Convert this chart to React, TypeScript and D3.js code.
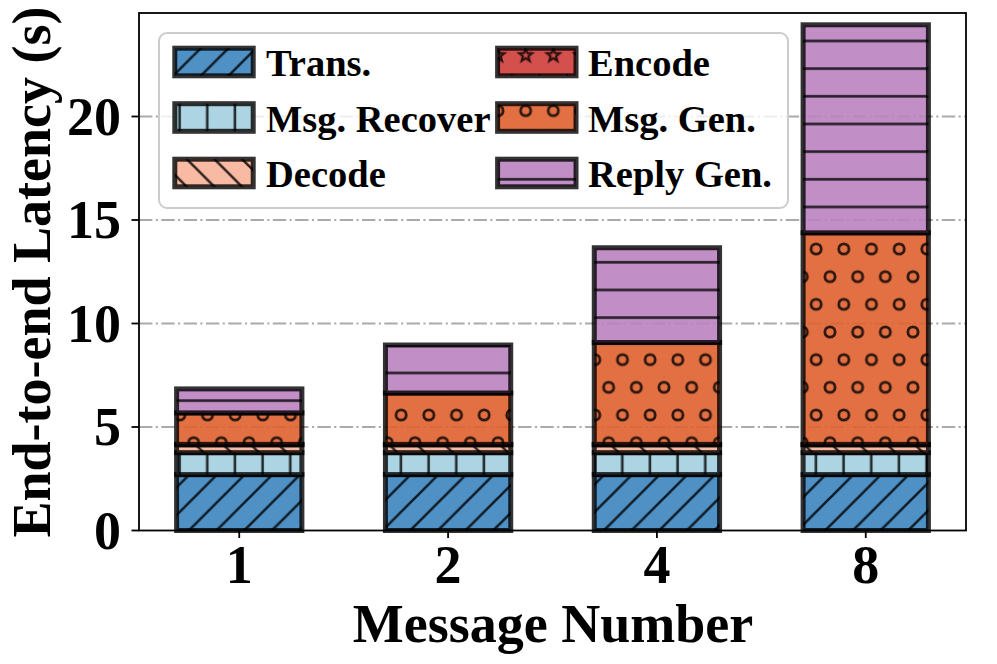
import React from "react";
import * as d3 from "d3";

const categories = ["1", "2", "4", "8"];
const trans = [2.7, 2.7, 2.7, 2.7];
const msgRecover = [1.06, 1.06, 1.06, 1.06];
const decode = [0.38, 0.38, 0.38, 0.38];
const encode = [0.02, 0.02, 0.02, 0.02];
const msgGen = [1.52, 2.48, 4.92, 10.22];
const replyGen = [1.16, 2.32, 4.58, 10.05];
const yTicks = [0, 5, 10, 15, 20];

const seriesNames = ["Trans.", "Msg. Recover", "Decode", "Encode", "Msg. Gen.", "Reply Gen."];
const seriesValues = [trans, msgRecover, decode, encode, msgGen, replyGen];
const seriesColors = ["#3c85bf", "#a4cfdf", "#f8b399", "#cf3d3a", "#df612d", "#ba83c0"];
const seriesPatterns = ["hDiag", "hVert", "hBack", "hStar", "hCirc", "hHoriz"];

const W = 997;
const H = 664;
const T = 166 / 6;
const FONT = "'Liberation Serif', 'Times New Roman', serif";
const EDGE = "rgba(0,0,0,0.8)";

function starPath(cx: number, cy: number, R: number) {
  const r = R * 0.42;
  const pts: string[] = [];
  for (let k = 0; k < 10; k++) {
    const a = -Math.PI / 2 + (k * Math.PI) / 5;
    const rr = k % 2 === 0 ? R : r;
    pts.push(`${cx + rr * Math.cos(a)},${cy + rr * Math.sin(a)}`);
  }
  return "M" + pts.join("L") + "Z";
}

export default function App() {
  const x = d3.scaleLinear().domain([-0.48, 3.48]).range([139, 966]);
  const y = d3.scaleLinear().domain([0, 25]).range([530.5, 13]);
  const bw = x(0.6) - x(0);

  const hs = 2.6; // hatch stroke
  const circPos = [
    [0, 0], [T, 0], [0, 2 * T], [T, 2 * T], [T / 2, T],
  ];

  const bars: JSX.Element[] = [];
  const cum = categories.map(() => 0);
  seriesValues.forEach((vals, s) => {
    vals.forEach((v, i) => {
      const y0 = cum[i];
      const y1 = y0 + v;
      cum[i] = y1;
      const rx = x(i) - bw / 2;
      const ry = y(y1);
      const rh = y(y0) - y(y1);
      bars.push(
        <g key={`b${s}-${i}`}>
          <rect x={rx} y={ry} width={bw} height={rh} fill={seriesColors[s]} fillOpacity={0.9} />
          <rect x={rx} y={ry} width={bw} height={rh} fill={`url(#${seriesPatterns[s]})`} />
          <rect x={rx} y={ry} width={bw} height={rh} fill="none" stroke={EDGE} strokeWidth={5} />
        </g>
      );
    });
  });

  const legendRows = [48.2, 103.7, 159.2];
  const legendCols = [174.8, 497.6];
  const legendTextX = [266, 588];

  return (
    <svg
      width={W}
      height={H}
      viewBox={`0 0 ${W} ${H}`}
      style={{ position: "absolute", left: 0, top: 0, background: "#fff" }}
      fontFamily={FONT}
      fontWeight="bold"
    >
      <defs>
        <pattern id="hDiag" patternUnits="userSpaceOnUse" x={0} y={0} width={T} height={T}>
          <path d={`M0,${T}L${T},0M-3,3L3,-3M${T - 3},${T + 3}L${T + 3},${T - 3}`} stroke={EDGE} strokeWidth={hs} />
        </pattern>
        <pattern id="hBack" patternUnits="userSpaceOnUse" x={0} y={0} width={T} height={T}>
          <path d={`M0,0L${T},${T}M${T - 3},-3L${T + 3},3M-3,${T - 3}L3,${T + 3}`} stroke={EDGE} strokeWidth={hs} />
        </pattern>
        <pattern id="hVert" patternUnits="userSpaceOnUse" x={0} y={0} width={T} height={T}>
          <path d={`M13.6,0L13.6,${T}`} stroke={EDGE} strokeWidth={hs} />
        </pattern>
        <pattern id="hHoriz" patternUnits="userSpaceOnUse" x={0} y={0} width={T} height={T}>
          <path d={`M0,13.3L${T},13.3`} stroke={EDGE} strokeWidth={hs} />
        </pattern>
        <pattern id="hCirc" patternUnits="userSpaceOnUse" x={0} y={0} width={T} height={2 * T}>
          {circPos.map(([cx, cy], k) => (
            <circle key={k} cx={cx} cy={cy} r={5.1} fill="none" stroke={EDGE} strokeWidth={2.8} />
          ))}
        </pattern>
        <pattern id="hStar" patternUnits="userSpaceOnUse" x={0} y={0} width={T} height={2 * T}>
          {circPos.map(([cx, cy], k) => (
            <path key={k} d={starPath(cx, cy, 6.8)} fill="none" stroke={EDGE} strokeWidth={2.2} strokeLinejoin="miter" />
          ))}
        </pattern>
      </defs>

      {/* grid */}
      {yTicks.filter((t) => t > 0).map((t) => (
        <line
          key={`g${t}`}
          x1={139}
          x2={966}
          y1={y(t)}
          y2={y(t)}
          stroke="#aaaaaa"
          strokeWidth={2}
          strokeDasharray="13.4,3.4,2.1,3.4"
        />
      ))}

      {bars}

      {/* axes frame */}
      <rect x={139} y={13} width={966 - 139} height={530.5 - 13} fill="none" stroke="#000" strokeWidth={1.8} />

      {/* y ticks */}
      {yTicks.map((t) => (
        <g key={`yt${t}`}>
          <line x1={131.5} x2={139} y1={y(t)} y2={y(t)} stroke="#000" strokeWidth={1.8} />
          <text x={121} y={y(t) + 18} textAnchor="end" fontSize={54}>
            {t}
          </text>
        </g>
      ))}

      {/* x ticks */}
      {categories.map((c, i) => (
        <g key={`xt${c}`}>
          <line x1={x(i)} x2={x(i)} y1={530.5} y2={538} stroke="#000" strokeWidth={1.8} />
          <text x={x(i)} y={583} textAnchor="middle" fontSize={54}>
            {c}
          </text>
        </g>
      ))}

      <text x={553} y={642} textAnchor="middle" fontSize={54}>
        Message Number
      </text>
      <text transform={`translate(50,272) rotate(-90)`} textAnchor="middle" fontSize={54}>
        End-to-end Latency (s)
      </text>

      {/* legend */}
      <rect x={159} y={33} width={629} height={175} rx={8} fill="#fff" fillOpacity={0.8} stroke="#cccccc" strokeWidth={2} />
      {seriesNames.map((name, s) => {
        const col = Math.floor(s / 3);
        const row = s % 3;
        const lx = legendCols[col];
        const ly = legendRows[row];
        return (
          <g key={`lg${s}`}>
            <rect x={lx} y={ly} width={78.4} height={27.6} fill={seriesColors[s]} fillOpacity={0.9} />
            <rect x={lx} y={ly} width={78.4} height={27.6} fill={`url(#${seriesPatterns[s]})`} />
            <rect x={lx} y={ly} width={78.4} height={27.6} fill="none" stroke={EDGE} strokeWidth={5} />
            <text x={legendTextX[col]} y={ly + 27.8} fontSize={38.5}>
              {name}
            </text>
          </g>
        );
      })}
    </svg>
  );
}
